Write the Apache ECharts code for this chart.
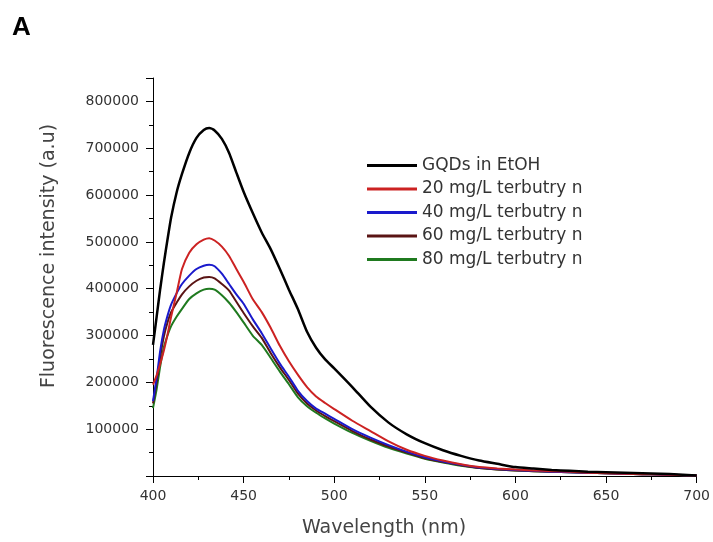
<!DOCTYPE html>
<html>
<head>
<meta charset="utf-8">
<script src="https://cdn.jsdelivr.net/npm/echarts@6/dist/echarts.min.js"></script>
<style>
html,body{margin:0;padding:0;background:#fff;}
#chart{width:713px;height:542px;}
</style>
</head>
<body>
<div id="chart"></div>
<script>
// Wavelengths (nm)
var wavelengths = [400,402,404,406,408,410,413,416,420,424,428,431,434,438,442,446,450,455,460,465,470,475,480,485,490,495,500,510,520,530,540,550,560,570,580,590,600,610,620,630,640,650,660,670,680,690,700];

// Fluorescence intensity (a.u.)
var gqdsEtOH = [280000,340000,400000,455000,505000,552000,605000,645000,690000,722000,739000,743000,738000,720000,690000,648000,607000,562000,520000,484000,442000,398000,356000,308000,274000,249000,230000,190000,148000,114000,89000,70000,55000,43000,33000,26000,19000,16000,13000,11000,9000,8000,7000,6000,5000,3000,1000];
var terb20 = [195000,215000,240000,268000,302000,340000,390000,442000,477000,495000,505000,508000,503000,490000,470000,442000,415000,378000,350000,316000,278000,245000,216000,190000,170000,156000,143000,118000,96000,74000,56000,43000,33000,25000,19000,16000,14000,12000,10000,9000,7000,6000,5000,4000,3000,2000,1000];
var terb40 = [160000,210000,268000,312000,342000,366000,390000,410000,428000,442000,449000,451000,448000,432000,410000,388000,368000,335000,305000,272000,240000,212000,182000,160000,144000,133000,122000,100000,82000,66000,52000,40000,31000,24000,18000,15000,13000,11000,9000,8000,7000,6000,5000,4000,3000,2000,1000];
var terb60 = [155000,200000,255000,298000,328000,350000,370000,388000,405000,417000,424000,425000,422000,410000,396000,372000,348000,320000,295000,262000,232000,205000,176000,155000,140000,128000,117000,96000,78000,63000,50000,38000,30000,23000,17000,14000,12000,10000,9000,8000,7000,6000,5000,4000,3000,2000,1000];
var terb80 = [145000,185000,235000,275000,300000,320000,340000,357000,378000,390000,398000,400000,398000,386000,370000,350000,328000,300000,280000,252000,223000,196000,168000,149000,135000,123000,112000,92000,75000,60000,48000,37000,29000,22000,17000,14000,12000,10000,9000,8000,7000,6000,5000,4000,3000,2000,1000];

var seriesNames = ['GQDs in EtOH','20 mg/L terbutry n','40 mg/L terbutry n','60 mg/L terbutry n','80 mg/L terbutry n'];
var seriesData = [gqdsEtOH, terb20, terb40, terb60, terb80];
var seriesColors = ['#000000','#cc2222','#1a1acc','#5a1414','#1f7a1f'];
var seriesWidths = [2.5,2,2,2,2];

function pairs(arr){ return wavelengths.map(function(w,i){ return [w, arr[i]]; }); }

var chart = echarts.init(document.getElementById('chart'), null, {renderer:'canvas'});
var font = '"DejaVu Sans", Verdana, sans-serif';

var option = {
  animation: false,
  backgroundColor: '#fff',
  graphic: [
    { type: 'text', left: 12, top: 15,
      style: { text: 'A', font: 'bold 26px "Liberation Sans", Arial, sans-serif', fill: '#000' } },
    { type: 'text', x: 384, y: 528,
      style: { text: 'Wavelength (nm)', font: '19px ' + font, fill: '#444', align: 'center', verticalAlign: 'middle' } },
    { type: 'text', x: 49, y: 256, rotation: Math.PI / 2,
      style: { text: 'Fluorescence intensity (a.u)', font: '19px ' + font, fill: '#444', align: 'center', verticalAlign: 'middle' } }
  ],
  grid: { left: 153, right: 16, top: 78, bottom: 66, containLabel: false },
  legend: {
    orient: 'vertical', left: 362, top: 152,
    itemWidth: 50, itemHeight: 3, itemGap: 6.5,
    icon: 'rect',
    data: seriesNames,
    textStyle: { fontFamily: font, fontSize: 17, color: '#333' }
  },
  xAxis: {
    type: 'value', min: 400, max: 700, interval: 50,
    axisLine: { show: true, lineStyle: { color: '#000', width: 1 } },
    axisTick: { show: true, inside: false, length: 7, lineStyle: { color: '#000' } },
    minorTick: { show: true, splitNumber: 2, length: 4, lineStyle: { color: '#000' } },
    axisLabel: { fontFamily: font, fontSize: 14, color: '#333', margin: 13 },
    splitLine: { show: false }
  },
  yAxis: {
    type: 'value', min: 0, max: 850000, interval: 100000,
    axisLine: { show: true, lineStyle: { color: '#000', width: 1 } },
    axisTick: { show: true, inside: false, length: 7, lineStyle: { color: '#000' } },
    minorTick: { show: true, splitNumber: 2, length: 4, lineStyle: { color: '#000' } },
    axisLabel: {
      fontFamily: font, fontSize: 14, color: '#333', margin: 14,
      formatter: function(v){ return (v === 0 || v > 800000) ? '' : String(v); }
    },
    splitLine: { show: false }
  },
  series: seriesNames.map(function(name, i){
    return {
      name: name, type: 'line', data: pairs(seriesData[i]),
      symbol: 'none', smooth: 0.2,
      color: seriesColors[i],
      lineStyle: { color: seriesColors[i], width: seriesWidths[i] },
      z: 10 - i
    };
  })
};
chart.setOption(option);
</script>
</body>
</html>
